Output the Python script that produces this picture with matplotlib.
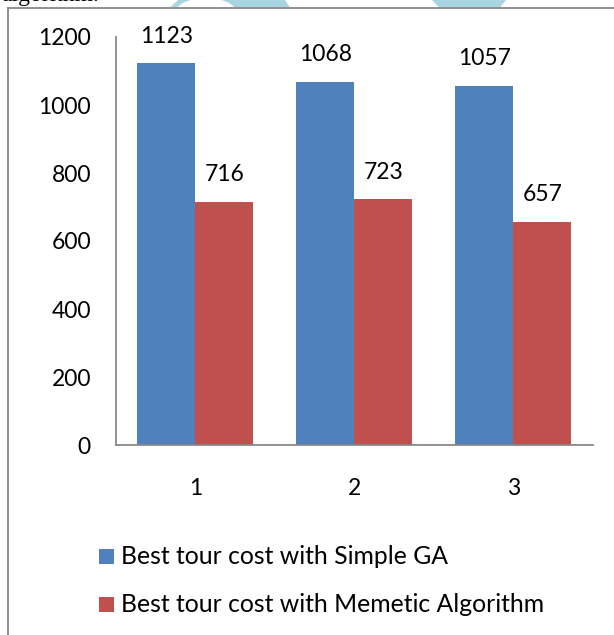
import matplotlib
matplotlib.use("Agg")
import matplotlib.pyplot as plt
from matplotlib.patches import Rectangle, Polygon, Ellipse
import numpy as np

plt.rcParams['font.family'] = ['Lato', 'DejaVu Sans']

# ---- data ----
categories = ["1", "2", "3"]
simple_ga = [1123, 1068, 1057]
memetic = [716, 723, 657]
series_names = ["Best tour cost with Simple GA",
                "Best tour cost with Memetic Algorithm"]
y_ticks = [0, 200, 400, 600, 800, 1000, 1200]

BLUE = "#4F81BD"
RED = "#C0504D"
GRAY = "#888888"

W, H = 614, 635
fig = plt.figure(figsize=(W / 100, H / 100), dpi=100)


def fx(x):
    return x / W


def fy(y):
    return 1 - y / H


# page fragments above the chart frame
fig.text(fx(1), fy(1.5), "algorithm.", family="Liberation Serif",
         fontsize=17, va="baseline", ha="left", color="black")
wm = "#A8D5E2"
fig.add_artist(Polygon([(fx(170), fy(7.5)), (fx(290), fy(7.5)),
                        (fx(285), fy(0)), (fx(178), fy(0))],
                       closed=True, color=wm, lw=0, transform=fig.transFigure))
fig.add_artist(Ellipse((fx(206), fy(12)), 60 / W, 28 / H, color="white",
                       lw=0, transform=fig.transFigure))
fig.add_artist(Polygon([(fx(432), fy(0)), (fx(506), fy(0)),
                        (fx(500), fy(7.5)), (fx(439), fy(7.5))],
                       closed=True, color=wm, lw=0, transform=fig.transFigure))

# chart frame
fig.add_artist(plt.Line2D([fx(8), fx(8)], [fy(8), fy(640)], color=GRAY, lw=1.3))
fig.add_artist(plt.Line2D([fx(8), fx(620)], [fy(8), fy(8)], color=GRAY, lw=1.3))

# plot area
left, right, top, bottom = 116, 592.7, 37, 445
ax = fig.add_axes([fx(left), fy(bottom), (right - left) / W, (bottom - top) / H])

x = np.arange(len(categories))
bw = 0.365
b1 = ax.bar(x - bw, simple_ga, width=bw, align="edge", color=BLUE, lw=0)
b2 = ax.bar(x, memetic, width=bw, align="edge", color=RED, lw=0)

for bars, vals in ((b1, simple_ga), (b2, memetic)):
    for rect, v in zip(bars, vals):
        ax.annotate(str(v), (rect.get_x() + rect.get_width() / 2, v),
                    xytext=(0, 19.5), textcoords="offset points",
                    ha="center", va="center", fontsize=16.5, color="black")

ax.set_xlim(-0.5, len(categories) - 0.5)
ax.set_ylim(0, 1200)
ax.set_yticks(y_ticks)
ax.set_yticklabels([str(t) for t in y_ticks])
ax.set_xticks(x)
ax.set_xticklabels(categories)
ax.tick_params(axis="y", length=0, pad=18, labelsize=16.5)
ax.tick_params(axis="x", length=0, pad=24, labelsize=16.5)

for s in ("top", "right"):
    ax.spines[s].set_visible(False)
for s in ("left", "bottom"):
    ax.spines[s].set_color(GRAY)
    ax.spines[s].set_linewidth(1.3)

# legend, stacked below the plot
for i, (name, col) in enumerate(zip(series_names, (BLUE, RED))):
    yc = 556.5 + i * 48
    fig.add_artist(Rectangle((fx(99), fy(yc + 7.5)), 15 / W, 15 / H,
                             color=col, lw=0, transform=fig.transFigure))
    fig.text(fx(121), fy(yc), name, fontsize=17.8, va="center", ha="left",
             color="black")

fig.savefig("out.png", dpi=100)
